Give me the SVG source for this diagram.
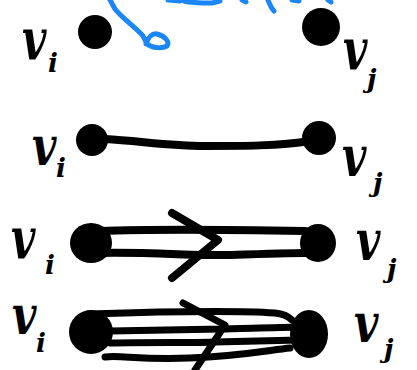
<svg xmlns="http://www.w3.org/2000/svg" width="417" height="370" viewBox="0 0 417 370">
<style>
.node{fill:#000}
.edge{fill:none;stroke:#000;stroke-width:8;stroke-linecap:round;stroke-linejoin:round}
.thin{stroke-width:7}
.blue{fill:none;stroke:#1a86f7;stroke-width:5;stroke-linecap:round;stroke-linejoin:round}
.v{font-family:"DejaVu Serif",serif;font-style:italic;font-weight:bold;font-size:42px;fill:#000}
.s{font-family:"DejaVu Serif",serif;font-style:italic;font-weight:bold;font-size:26px;fill:#000}
</style>
<rect width="417" height="370" fill="#fff"/>
<g id="annotation">
<path class="blue" d="M109,-2 L115,9 C122,18 135,27 143,36 L147,44 C152,48 162,49 167,46 C170,42 165,36 157,34 C152,33 148,38 146,44"/>
<path class="blue" d="M168,0 L180,1 M184,1 C192,3 202,3 212,3 L220,1 M242,0 L246,2 M268,0 C270,5 272,9 274,11 M292,0 L299,1 M328,0 L331,2"/>
</g>
<g id="connectors">
<path class="edge" stroke-width="9" d="M105,139 C140,141 170,146 205,146 S280,146 310,141"/>
<path class="edge" d="M100,231 C150,229 250,230 305,231"/>
<path class="edge" d="M100,253 C150,252 200,256 230,255 S290,253 305,253"/>
<path class="edge" d="M172,213 L218,240 L172,278"/>
<path class="edge thin" d="M88,314 C150,312 230,310 275,313 C285,314 290,318 292,320"/>
<path class="edge thin" d="M110,331 L222,329 C240,328 270,328 298,327"/>
<path class="edge thin" d="M110,343 C150,342 200,343 215,342 L300,340"/>
<path class="edge thin" d="M105,357 C120,355 140,360 190,358 S270,350 290,348"/>
<path class="edge thin" d="M183,303 L225,325 L195,370"/>
</g>
<g id="r1-vi"><circle class="node" cx="95" cy="32" r="17"/><text class="v" transform="translate(22,60) scale(1,1.4)">v</text><text class="s" x="48" y="72">i</text></g>
<g id="r1-vj"><circle class="node" cx="321" cy="27" r="19"/><text class="v" transform="translate(343,70) scale(1,1.4)">v</text><text class="s" x="367" y="88">j</text></g>
<g id="r2-vi"><circle class="node" cx="92" cy="140" r="16"/><text class="v" transform="translate(32,165) scale(1,1.3)">v</text><text class="s" x="56" y="177">i</text></g>
<g id="r2-vj"><circle class="node" cx="319" cy="138" r="17"/><text class="v" transform="translate(342,176) scale(1,1.35)">v</text><text class="s" x="373" y="192">j</text></g>
<g id="r3-vi"><ellipse class="node" cx="91" cy="243" rx="21" ry="20"/><text class="v" transform="translate(11,259) scale(1,1.4)">v</text><text class="s" x="45" y="274">i</text></g>
<g id="r3-vj"><ellipse class="node" cx="318" cy="243" rx="18" ry="19"/><text class="v" transform="translate(356,260) scale(1,1.35)">v</text><text class="s" x="387" y="278">j</text></g>
<g id="r4-vi"><circle class="node" cx="91" cy="332" r="22"/><text class="v" transform="translate(12,334) scale(1,1.3)">v</text><text class="s" x="36" y="352">i</text></g>
<g id="r4-vj"><ellipse class="node" cx="309" cy="334" rx="19" ry="24"/><text class="v" transform="translate(354,342) scale(1,1.3)">v</text><text class="s" x="384" y="358">j</text></g>
</svg>
